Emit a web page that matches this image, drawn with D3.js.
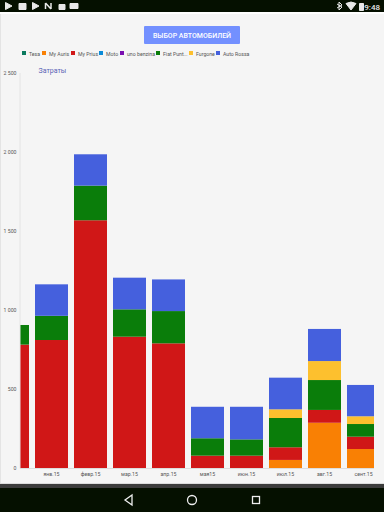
<!DOCTYPE html>
<html>
<head>
<meta charset="utf-8">
<script src="https://cdn.jsdelivr.net/npm/d3@7"></script>
<style>
  html, body { margin: 0; padding: 0; background: #f5f5f5; overflow: hidden; }
  svg { display: block; font-family: Roboto, sans-serif; }
</style>
</head>
<body>
<svg width="384" height="512"></svg>
<script>
'use strict';

const months = ['дек.14', 'янв.15', 'февр.15', 'мар.15', 'апр.15', 'мая15', 'июн.15', 'июл.15', 'авг.15', 'сент.15']
const cars = ['Tesa', 'My Auris', 'My Prius', 'Moto', 'uno benzina', 'Fiat Punt...', 'Furgone', 'Auto Rossa']
const carColors = ['#0b7a5e', '#f98004', '#d01717', '#0a8bd8', '#7a0fb0', '#0a7d0a', '#fdc02e', '#4560dd']
const yTicks = [0, 500, 1000, 1500, 2000, 2500]

const tesa = [0, 0, 0, 0, 0, 0, 0, 0, 0, 0]
const myAuris = [0, 0, 0, 0, 0, 0, 0, 51, 286, 120]
const myPrius = [780, 809, 1566, 830, 788, 78, 78, 80, 81, 78]
const moto = [0, 0, 0, 0, 0, 0, 0, 0, 0, 0]
const unoBenzina = [0, 0, 0, 0, 0, 0, 0, 0, 0, 0]
const fiatPunto = [124, 153, 219, 173, 204, 110, 103, 185, 189, 80]
const furgone = [0, 0, 0, 0, 0, 0, 0, 55, 120, 49]
const autoRossa = [0, 199, 198, 200, 200, 199, 206, 200, 203, 198]

const svg = d3.select('svg')

// panel and android bars
svg.append('rect').attr('width', 384).attr('height', 512).attr('fill', '#f5f5f5')
svg.append('rect').attr('width', 384).attr('height', 12).attr('fill', '#051000')
svg.append('rect').attr('y', 12).attr('width', 384).attr('height', 2).attr('fill', '#fff')
svg.append('rect').attr('y', 14).attr('width', 1).attr('height', 470).attr('fill', '#e4e4e4')
svg.append('rect').attr('y', 483).attr('width', 384).attr('height', 1).attr('fill', '#ddd')
svg.append('rect').attr('y', 484).attr('width', 384).attr('height', 4).attr('fill', '#3c3c3c')
svg.append('rect').attr('y', 488).attr('width', 384).attr('height', 24).attr('fill', '#051000')

// status icons
const icons = [
  ['M5.5 2.5L5.5 9.5L12 6Z', 'M19 3.5h7v6h-7Z', 'M32.5 2.5L32.5 9.5L39 6Z', 'M45.5 3L45.5 9M45.5 3L51 9M51 3L51 9', 'M59 4.5h6v5h-6Z', 'M70 3.5h8v5h-8Z'],
  ['M339 2L342 5L337 8M339 2V10L342 7L337 4', 'M346 3.5Q351 0.5 356 3.5L351 10Z', 'M359.5 3.5h4v7h-4Z']
]
svg.append('g').selectAll('path').data(icons.flat()).enter().append('path')
  .attr('d', (d) => d)
  .attr('fill', (d) => d.startsWith('M45') || d.startsWith('M339') ? 'none' : '#e8e8e8')
  .attr('stroke', '#e8e8e8')
  .attr('stroke-width', (d) => d.startsWith('M45') ? 1.5 : 1)
svg.append('text').attr('x', 380).attr('y', 9.5).attr('text-anchor', 'end')
  .attr('font-size', 8).attr('font-weight', 500).attr('fill', '#e8e8e8').text('9:48')

// nav buttons
svg.append('path').attr('d', 'M132 495L125 500L132 505Z').attr('fill', 'none').attr('stroke', '#eee').attr('stroke-width', 1.3)
svg.append('circle').attr('cx', 192).attr('cy', 500).attr('r', 4.5).attr('fill', 'none').attr('stroke', '#eee').attr('stroke-width', 1.3)
svg.append('rect').attr('x', 252.5).attr('y', 496.5).attr('width', 7).attr('height', 7).attr('fill', 'none').attr('stroke', '#eee').attr('stroke-width', 1.3)

// button
svg.append('rect').attr('x', 144).attr('y', 26).attr('width', 96).attr('height', 18).attr('rx', 1).attr('fill', '#7390ff')
svg.append('text').attr('x', 192).attr('y', 38.3).attr('text-anchor', 'middle')
  .attr('font-size', 7).attr('font-weight', 500).attr('fill', '#fff').text('ВЫБОР АВТОМОБИЛЕЙ')

// legend
const legendX = [22, 42, 71, 99, 120, 156, 189, 216]
const legend = svg.append('g').selectAll('g').data(cars).enter().append('g')
  .attr('transform', (d, i) => `translate(${legendX[i]},51)`)
legend.append('rect').attr('width', 4).attr('height', 4).attr('fill', (d, i) => carColors[i])
legend.append('text').attr('x', 7).attr('y', 4.5).attr('font-size', 5.2).attr('fill', '#555').text((d) => d)

// chart
const x = d3.scaleBand().domain(months).range([-7, 383]).paddingInner(6 / 39).paddingOuter(3 / 39)
const y = d3.scaleLinear().domain([0, 2500]).range([468, 72.5])

const stack = d3.stack().keys(d3.range(cars.length)).value((d, k) => d[k])
const rows = months.map((m, i) => [tesa[i], myAuris[i], myPrius[i], moto[i], unoBenzina[i], fiatPunto[i], furgone[i], autoRossa[i]])
const layers = stack(rows)

svg.append('clipPath').attr('id', 'plot').append('rect')
  .attr('x', 20).attr('y', 60).attr('width', 354).attr('height', 408)

svg.append('g').attr('clip-path', 'url(#plot)')
  .selectAll('g').data(layers).enter().append('g')
  .attr('fill', (d, i) => carColors[i])
  .selectAll('rect').data((d) => d).enter().append('rect')
  .attr('x', (d, i) => x(months[i]))
  .attr('width', x.bandwidth())
  .attr('y', (d) => y(d[1]))
  .attr('height', (d) => y(d[0]) - y(d[1]))

const yAxis = d3.axisLeft(y).tickValues(yTicks).tickSize(0).tickPadding(3)
  .tickFormat((d) => d3.format(',')(d).replace(',', ' '))
const yG = svg.append('g').attr('transform', 'translate(19.5,0)').call(yAxis)
yG.select('.domain').attr('stroke', '#e4e4e4').attr('stroke-width', 1)
yG.selectAll('text').attr('font-size', 5.2).attr('font-family', 'Roboto, sans-serif').attr('fill', '#555')

const xAxis = d3.axisBottom(x).tickValues(months.slice(1)).tickSize(0).tickPadding(4.5)
const xG = svg.append('g').attr('transform', 'translate(0,468)').call(xAxis)
xG.select('.domain').remove()
xG.selectAll('text').attr('font-size', 5.2).attr('font-family', 'Roboto, sans-serif').attr('fill', '#555')
svg.append('line').attr('x1', 20).attr('x2', 374).attr('y1', 468.5).attr('y2', 468.5).attr('stroke', '#ddd')

svg.append('text').attr('x', 38.5).attr('y', 73).attr('font-size', 7).attr('fill', '#5a63b5').text('Затраты')
</script>
</body>
</html>
